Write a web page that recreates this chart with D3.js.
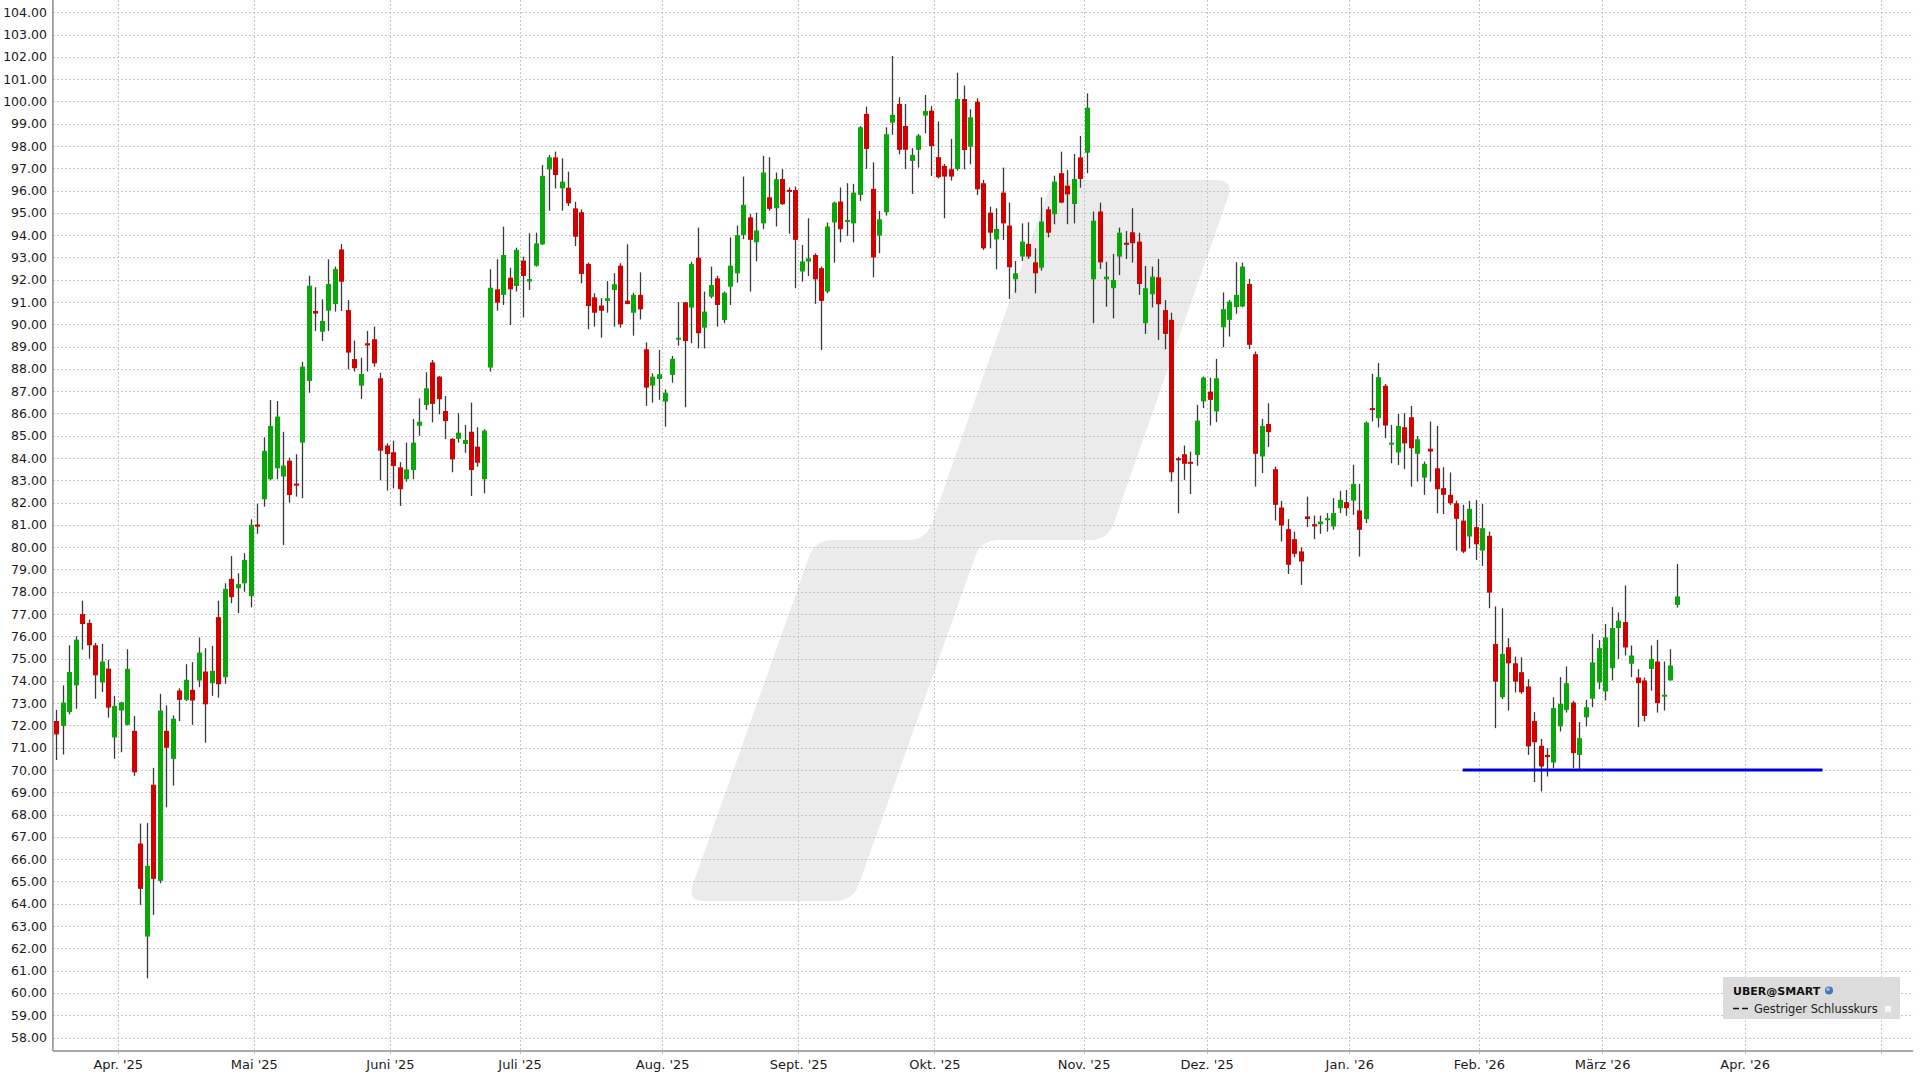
<!DOCTYPE html>
<html><head><meta charset="utf-8">
<script src="https://cdn.jsdelivr.net/npm/d3@7"></script>
<style>
html,body{margin:0;padding:0;background:#fff;}
svg{display:block;font-family:"DejaVu Sans",Verdana,sans-serif;}
</style>
</head><body>
<svg id="chart" width="1920" height="1080"></svg>
<script>
// ---------- DATA (daily candles, trading-day index 0 = first candle) ----------
const opens = [
72.2,71.98,72.6,73.8,77.0,76.6,75.6,73.93,74.55,71.46,
72.67,72.03,71.76,66.7,62.53,69.34,65.03,71.76,70.5,73.57,
73.15,73.6,74.02,74.42,73.9,76.86,74.17,78.58,78.16,78.38,
77.8,81.02,82.15,83.05,83.54,83.17,83.88,82.85,84.69,87.46,
90.6,89.67,90.61,90.91,93.36,90.64,88.44,87.25,89.15,89.33,
87.58,84.56,84.26,83.58,83.05,83.46,85.45,86.38,88.29,87.65,
86.11,84.86,84.86,84.63,85.18,84.51,83.05,88.06,91.57,91.32,
92.09,91.72,92.86,91.92,92.63,93.59,96.95,97.49,96.1,96.13,
95.2,95.03,92.71,91.21,90.84,91.05,91.54,92.63,91.06,90.52,
91.32,88.88,87.25,87.55,86.53,87.73,89.34,90.99,90.75,92.99,
89.85,91.24,92.06,90.19,91.69,92.29,94.01,94.8,93.68,94.53,
95.7,95.21,96.52,96.03,96.03,92.37,92.82,93.11,92.52,91.47,
94.57,95.51,94.61,94.53,95.81,99.44,96.08,93.98,95.03,99.05,
99.89,98.9,97.33,97.83,99.37,99.59,97.5,97.11,96.96,96.97,
100.11,97.97,99.99,96.33,95.01,93.81,95.91,94.43,92.02,93.04,
93.61,92.78,92.54,95.16,94.94,96.78,96.22,95.4,97.49,97.7,
92.02,95.06,92.02,91.62,93.04,93.66,94.13,93.71,90.05,91.35,
92.11,90.64,90.2,83.99,84.17,83.83,84.14,86.54,86.98,86.09,
89.87,90.2,90.77,90.8,91.81,88.66,84.07,85.53,83.5,81.78,
80.81,80.36,79.81,81.38,81.03,81.03,81.23,80.93,81.75,82.02,
82.09,81.65,81.26,86.24,85.79,87.24,84.63,84.25,85.38,85.83,
84.19,83.12,84.42,83.54,82.65,82.35,81.97,81.19,80.48,80.9,
79.85,80.51,75.66,73.27,75.51,74.79,74.39,73.75,72.2,71.09,
70.68,70.34,71.96,72.7,73.03,70.68,72.37,73.2,73.93,73.53,
74.57,76.37,76.64,74.77,74.15,74.02,74.54,74.87,73.3,74.02,
77.41];
const highs = [
72.7,73.8,75.6,76.0,77.6,76.75,75.7,75.66,74.95,73.33,
73.07,75.42,72.43,67.6,67.62,70.1,73.42,72.9,72.45,73.67,
74.75,74.84,75.95,75.47,75.57,77.6,78.38,79.6,78.83,79.73,
81.25,81.95,84.93,86.6,86.56,85.18,84.02,84.17,88.32,92.18,
91.66,91.12,92.92,92.59,93.6,91.09,89.27,88.5,89.7,89.9,
87.83,84.66,84.78,83.81,84.69,85.75,86.68,87.85,88.4,87.68,
86.78,84.9,86.01,85.48,86.49,85.38,85.29,92.47,92.92,94.38,
92.54,93.44,93.04,94.08,94.11,97.15,97.6,97.75,97.45,96.85,
95.5,95.16,92.77,91.39,91.17,91.94,92.29,92.74,93.59,91.42,
92.33,89.19,87.8,88.85,87.08,88.58,91.0,91.0,92.81,94.34,
91.47,92.59,92.18,91.47,93.9,94.43,96.63,94.95,95.01,97.56,
97.5,96.81,96.96,96.14,96.18,93.56,94.76,93.19,92.59,94.57,
95.51,96.14,96.33,96.3,98.9,99.77,97.27,95.09,98.84,102.04,
100.19,99.89,97.9,98.54,100.29,99.8,99.1,97.2,98.32,101.29,
100.71,99.65,100.14,96.48,95.28,95.21,97.03,95.46,92.84,94.53,
94.58,93.41,95.7,95.28,96.67,97.75,96.93,97.64,98.45,100.36,
95.06,95.46,92.81,93.16,94.34,94.19,95.21,94.11,92.62,92.59,
92.93,91.09,90.52,84.06,84.56,84.29,86.39,87.66,87.61,88.45,
91.43,91.1,92.79,92.77,92.04,88.78,85.76,86.46,83.62,82.08,
81.26,80.7,80.0,82.27,81.42,81.42,81.53,82.2,82.53,82.57,
83.7,82.84,85.64,87.78,88.26,87.32,85.49,85.98,86.01,86.34,
84.99,83.84,85.64,85.44,83.59,83.35,82.09,81.9,82.08,82.12,
81.94,80.7,77.34,77.26,75.92,75.09,75.06,74.08,72.6,71.4,
70.98,73.27,74.17,74.65,73.11,72.15,73.15,76.11,75.84,76.55,
77.31,77.07,78.28,75.59,74.53,74.15,75.59,75.84,74.87,75.42,
79.25];
const lows = [
70.45,70.7,72.5,72.75,75.4,75.0,73.2,73.5,72.35,70.5,
70.8,72.0,69.74,63.95,60.66,63.5,64.92,68.33,69.3,72.2,
73.1,72.03,73.72,71.23,73.33,73.25,73.87,77.49,77.04,78.0,
77.3,80.6,81.82,83.0,83.05,80.1,82.0,82.27,82.2,86.93,
89.7,89.25,89.7,90.57,90.6,87.98,87.88,86.65,87.88,88.1,
83.0,82.54,82.64,81.85,82.94,83.05,85.0,86.16,85.6,85.96,
84.86,83.36,84.69,84.24,82.3,83.61,82.42,87.88,90.61,90.87,
89.97,91.47,90.31,91.54,92.59,93.56,95.1,96.1,95.1,95.31,
93.51,91.84,89.78,89.9,89.4,90.52,89.9,89.85,90.9,89.49,
90.22,86.34,86.49,86.61,85.41,87.38,89.04,86.28,89.15,88.92,
88.92,91.17,89.9,90.05,90.87,91.87,93.82,91.47,92.82,94.27,
95.1,94.39,95.36,94.06,91.62,91.92,92.17,90.92,88.85,91.39,
92.77,93.68,93.97,93.68,95.54,96.97,92.11,93.19,94.88,98.5,
97.63,96.96,95.85,97.03,98.57,96.66,96.55,94.76,96.45,96.9,
96.95,97.18,95.8,93.34,93.41,92.47,93.78,91.14,91.42,92.84,
92.93,91.39,92.41,93.9,94.49,95.43,94.49,94.53,96.13,96.78,
90.05,92.48,90.79,90.27,92.21,92.93,92.77,91.32,89.57,90.76,
89.3,88.88,82.94,81.52,83.02,82.38,83.65,86.24,85.46,85.61,
88.97,89.45,90.47,90.77,88.9,82.72,83.32,84.49,81.2,80.26,
78.8,79.54,78.31,80.9,80.36,80.6,80.7,80.78,81.53,81.41,
81.45,79.58,81.08,85.64,85.37,84.89,83.77,83.69,83.5,82.72,
82.94,82.35,82.94,81.52,81.49,81.9,79.85,79.73,79.95,79.43,
79.16,77.26,71.88,73.18,72.67,73.48,73.42,70.68,69.46,69.04,
69.71,70.09,71.73,72.58,70.09,70.0,71.96,72.82,73.63,73.12,
74.02,74.99,75.14,74.17,71.93,72.18,73.56,72.58,72.67,74.02,
77.29];
const closes = [
71.6,73.03,74.4,75.85,76.55,75.6,74.25,74.87,72.8,72.88,
73.04,74.54,69.9,64.67,65.7,65.12,72.67,71.0,72.3,73.15,
74.05,73.12,75.27,72.95,74.45,73.85,78.13,77.76,78.34,79.43,
81.0,80.92,84.32,85.44,85.86,83.66,82.34,82.8,88.1,91.73,
90.48,90.15,91.81,92.48,91.91,88.73,88.03,87.77,89.05,88.25,
84.33,84.18,83.64,82.6,83.49,84.69,85.63,87.13,86.43,86.64,
85.66,83.94,85.14,84.81,83.46,83.79,85.23,91.64,90.97,93.11,
91.57,93.34,92.17,92.03,93.63,96.66,97.49,96.7,96.4,95.43,
93.93,92.26,90.82,90.52,90.61,91.17,91.8,90.0,90.91,91.32,
90.67,87.16,87.65,87.76,86.93,88.45,89.4,89.25,92.71,89.6,
90.57,91.76,90.87,91.42,92.63,94.0,95.36,93.79,94.21,96.81,
95.18,96.51,95.39,95.96,93.79,92.82,92.96,92.02,91.05,94.39,
95.46,94.27,94.68,95.91,98.84,97.87,93.0,94.71,98.53,99.4,
97.83,97.83,97.6,98.47,99.57,98.0,96.6,96.63,96.63,100.11,
97.82,99.29,96.06,93.41,94.11,94.28,94.53,92.56,92.29,93.71,
93.04,92.29,94.61,94.11,96.4,95.46,95.83,96.52,96.52,99.72,
94.65,92.78,92.14,91.99,94.11,93.59,93.64,91.81,91.62,92.14,
90.9,89.57,83.36,83.91,83.74,83.77,85.68,87.61,86.61,87.58,
90.68,91.02,91.32,92.59,89.08,84.19,85.44,85.16,81.9,80.97,
79.21,79.7,79.36,81.26,80.93,81.15,81.3,81.53,82.12,81.75,
82.84,80.78,85.59,86.19,87.63,85.46,84.69,85.44,84.66,84.44,
84.84,83.74,84.29,82.6,82.35,81.97,81.27,79.8,81.72,80.13,
80.85,77.96,73.97,75.21,74.79,73.97,73.49,71.06,71.25,70.16,
70.58,72.78,72.97,73.9,70.76,71.43,72.82,74.83,75.47,75.95,
76.37,76.7,75.5,75.14,73.9,72.43,74.98,73.0,73.38,74.69,
77.79];

// month start (trading-day index) and labels
const monthStartIndex = [10,31,52,72,94,115,136,159,178,200,220,239,261,282];
const monthLabels = ["Apr. '25","Mai '25","Juni '25","Juli '25","Aug. '25","Sept. '25","Okt. '25","Nov. '25","Dez. '25","Jan. '26","Feb. '26","März '26","Apr. '26",""];
const priceTicks = [58,59,60,61,62,63,64,65,66,67,68,69,70,71,72,73,74,75,76,77,78,79,80,81,82,83,84,85,86,87,88,89,90,91,92,93,94,95,96,97,98,99,100,101,102,103,104];
const totalSlots = 287;            // trading-day slots incl. future space
const supportLevel = 70;           // blue horizontal line
const supportFromIdx = 217, supportToIdx = 273;
const legendTitle = "UBER@SMART";
const legendItem = "Gestriger Schlusskurs";

(function(){
// ---------- LAYOUT ----------
const svg = d3.select("#chart");
const plotL = 52.9, slotW = 6.482, plotR = plotL + totalSlots*slotW;
const plotT = 0, plotB = 1051;
const x = d3.scaleLinear().domain([0, totalSlots]).range([plotL, plotR]);
const y = d3.scaleLinear().domain([58, 104]).range([1037.5, 12.3]);

svg.append("rect").attr("width",1920).attr("height",1080).attr("fill","#fff");

// watermark logo
function roundedPath(pts, r){
  let d = ""; const n = pts.length;
  for (let i=0;i<n;i++){
    const p0=pts[(i-1+n)%n], p1=pts[i], p2=pts[(i+1)%n];
    const v1=[p0[0]-p1[0],p0[1]-p1[1]], v2=[p2[0]-p1[0],p2[1]-p1[1]];
    const l1=Math.hypot(v1[0],v1[1]), l2=Math.hypot(v2[0],v2[1]);
    const rr=Math.min(r,l1/2,l2/2);
    const a=[p1[0]+v1[0]/l1*rr,p1[1]+v1[1]/l1*rr], b=[p1[0]+v2[0]/l2*rr,p1[1]+v2[1]/l2*rr];
    d += (i===0?"M":"L")+a[0]+","+a[1]+"Q"+p1[0]+","+p1[1]+" "+b[0]+","+b[1];
  }
  return d+"Z";
}
const wm = [[1052,180],[1234,180],[1108,540],[981,540],[853,901],[687,901],[815,540],[926,540]];
svg.append("path").attr("d", roundedPath(wm, 18)).attr("fill","#ebebeb");

// grid
const grid = svg.append("g").attr("stroke","#c4c4c4").attr("stroke-width",1).attr("stroke-dasharray","2,2");
grid.selectAll("line.h").data(priceTicks).join("line").attr("class","h")
  .attr("x1",plotL).attr("x2",plotR)
  .attr("y1",d=>Math.round(y(d))+0.5).attr("y2",d=>Math.round(y(d))+0.5);
grid.selectAll("line.v").data(monthStartIndex).join("line").attr("class","v")
  .attr("x1",d=>Math.round(x(d))+0.5).attr("x2",d=>Math.round(x(d))+0.5)
  .attr("y1",plotT).attr("y2",plotB+4);

// axes
const yAxis = d3.axisLeft(y).tickValues(priceTicks).tickFormat(d3.format(".2f")).tickSize(0).tickPadding(6);
const gy = svg.append("g").attr("transform",`translate(${plotL},0)`).call(yAxis);
gy.select(".domain").remove();
gy.selectAll("text").attr("font-size","12.5px").attr("fill","#1a1a1a").attr("font-family","DejaVu Sans, Verdana, sans-serif");

const xAxis = d3.axisBottom(x).tickValues(monthStartIndex).tickFormat((d,i)=>monthLabels[i]).tickSize(0).tickPadding(9);
const gx = svg.append("g").attr("transform",`translate(0,${plotB})`).call(xAxis);
gx.select(".domain").remove();
gx.selectAll("text").attr("font-size","13px").attr("fill","#1a1a1a").attr("font-family","DejaVu Sans, Verdana, sans-serif");

svg.append("line").attr("x1",plotL).attr("x2",plotL).attr("y1",0).attr("y2",plotB).attr("stroke","#8c8c8c").attr("stroke-width",1.5);
svg.append("line").attr("x1",plotL).attr("x2",plotR).attr("y1",plotB).attr("y2",plotB).attr("stroke","#8c8c8c").attr("stroke-width",1.5);

// candles
const candles = opens.map((o,i)=>({i, o, h:highs[i], l:lows[i], c:closes[i]}));
const cg = svg.append("g");
cg.selectAll("line").data(candles).join("line")
  .attr("x1",d=>Math.round(x(d.i+0.5))+0.5).attr("x2",d=>Math.round(x(d.i+0.5))+0.5)
  .attr("y1",d=>y(d.h)).attr("y2",d=>y(d.l))
  .attr("stroke","#3a3a3a").attr("stroke-width",1.3);
const bodyW = 5;
cg.selectAll("rect").data(candles).join("rect")
  .attr("x",d=>Math.round(x(d.i+0.5))+0.5-bodyW/2)
  .attr("width",bodyW)
  .attr("y",d=>y(Math.max(d.o,d.c)))
  .attr("height",d=>Math.max(2, Math.abs(y(d.o)-y(d.c))))
  .attr("fill",d=>d.c>=d.o?"#07a807":"#d40000");

// support line
svg.append("line")
  .attr("x1",x(supportFromIdx+0.5)).attr("x2",x(supportToIdx))
  .attr("y1",y(supportLevel)).attr("y2",y(supportLevel))
  .attr("stroke","#0000dc").attr("stroke-width",3);

// legend
const lg = svg.append("g");
lg.append("rect").attr("x",1723).attr("y",977).attr("width",177).attr("height",42).attr("fill","#dcdcdc");
lg.append("text").attr("x",1733).attr("y",994.5).attr("font-size","11px").attr("font-weight","bold").attr("fill","#111").text(legendTitle);
lg.append("circle").attr("cx",1829).attr("cy",990.5).attr("r",4).attr("fill","#4a78b0");
lg.append("circle").attr("cx",1828).attr("cy",989.3).attr("r",1.8).attr("fill","#9fc2e8");
lg.append("line").attr("x1",1733).attr("x2",1750).attr("y1",1008.5).attr("y2",1008.5).attr("stroke","#111").attr("stroke-width",1.5).attr("stroke-dasharray","6,3");
lg.append("text").attr("x",1754).attr("y",1012.5).attr("font-size","11.4px").attr("fill","#222").text(legendItem);
lg.append("rect").attr("x",1885).attr("y",1006).attr("width",6).attr("height",6).attr("fill","#f6f6f6");
})();
</script>
</body></html>
